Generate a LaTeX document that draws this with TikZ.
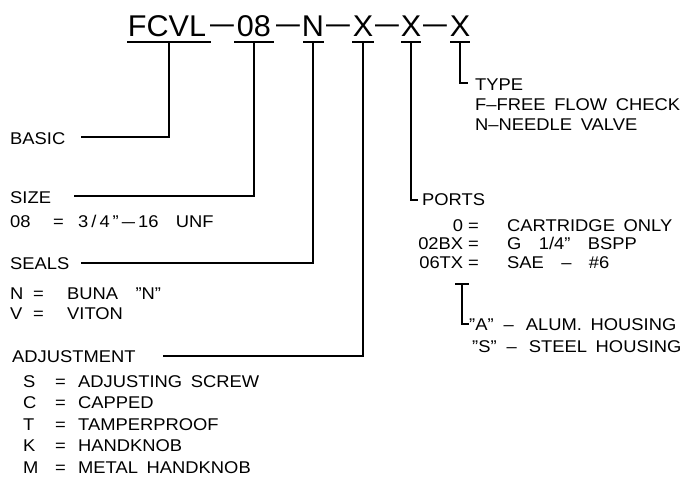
\documentclass[tikz,border=0pt]{standalone}
\usepackage{fontspec}
\usepackage{graphicx}
\setmainfont[FakeStretch=1.08,WordSpace=1.7]{Liberation Sans}
\newfontfamily\titlefont[FakeStretch=1.02]{Liberation Sans}
\newcommand\lrow[4]{\makebox[#1][l]{#3}\makebox[#2][l]{=}#4}
\newcommand\prow[2]{\makebox[53pt][r]{#1}\hspace{5pt}\makebox[39pt][l]{=}#2}
\newcommand\tdash{\raisebox{2.5pt}{\scalebox{1.4}[1]{–}}}
\newcommand\hdash{\hspace{10pt}–\hspace{12pt}}
\tikzset{
  lbl/.style={anchor=base west,inner sep=0pt,font=\fontsize{17}{17}\selectfont},
  ttl/.style={anchor=base,inner sep=0pt,font=\titlefont\fontsize{30}{30}\selectfont},
  ln/.style={line width=1.5pt,line cap=rect},
}
\begin{document}
\begin{tikzpicture}[x=1pt,y=-1pt]
\useasboundingbox[fill=white] (0,0) rectangle (688,480);
% title
\node[ttl] (t1) at (167,36) {FCVL};
\node[ttl] (d1) at (222,36) {\tdash};
\node[ttl] (t2) at (254,36) {08};
\node[ttl] (d2) at (288,36) {\tdash};
\node[ttl] (t3) at (313,36) {N};
\node[ttl] (d3) at (338,36) {\tdash};
\node[ttl] (t4) at (363,36) {X};
\node[ttl] (d4) at (387,36) {\tdash};
\node[ttl] (t5) at (411,36) {X};
\node[ttl] (d5) at (435,36) {\tdash};
\node[ttl] (t6) at (460,36) {X};
% underlines
\draw[ln] (128,42) -- (210,42);
\draw[ln] (235,42) -- (273,42);
\draw[ln] (304,42) -- (323,42);
\draw[ln] (353,42) -- (373,42);
\draw[ln] (402,42) -- (420,42);
\draw[ln] (451,42) -- (469,42);
\coordinate (u1) at (169,42);
\coordinate (u2) at (254,42);
\coordinate (u3) at (313,42);
\coordinate (u4) at (363,42);
\coordinate (u5) at (411,42);
\coordinate (u6) at (460,42);
% left labels
\node[lbl] (basic) at (10,144) {BASIC};
\node[lbl] (size) at (10,203) {SIZE};
\node[lbl] (size1) at (10,227) {\lrow{43pt}{25pt}{08}{3\kern3pt/\kern3pt4\kern3pt”\kern3pt\scalebox{1.3}[1]{–}\kern3pt16~~UNF}};
\node[lbl] (seals) at (10,269) {SEALS};
\node[lbl] (seal1) at (10,299) {\lrow{23pt}{34pt}{N}{BUNA~~”N”}};
\node[lbl] (seal2) at (10,319) {\lrow{23pt}{34pt}{V}{VITON}};
\node[lbl] (adj) at (12,362) {ADJUSTMENT};
\node[lbl] (adj1) at (23,387) {\lrow{32pt}{23pt}{S}{ADJUSTING~SCREW}};
\node[lbl] (adj2) at (23,408) {\lrow{32pt}{23pt}{C}{CAPPED}};
\node[lbl] (adj3) at (23,430) {\lrow{32pt}{23pt}{T}{TAMPERPROOF}};
\node[lbl] (adj4) at (23,451) {\lrow{32pt}{23pt}{K}{HANDKNOB}};
\node[lbl] (adj5) at (23,473) {\lrow{32pt}{23pt}{M}{METAL~HANDKNOB}};
% right labels
\node[lbl] (type) at (475,90) {TYPE};
\node[lbl] (type1) at (475,110) {F–FREE FLOW CHECK};
\node[lbl] (type2) at (475,130) {N–NEEDLE VALVE};
\node[lbl] (ports) at (422,205) {PORTS};
\node[lbl] (port1) at (410,231) {\prow{0}{CARTRIDGE ONLY}};
\node[lbl] (port2) at (410,249) {\prow{02BX}{G~~1/4”~~BSPP}};
\node[lbl] (port3) at (410,268) {\prow{06TX}{SAE~~–~~\#6}};
\node[lbl] (hous1) at (469,330) {”A”\hdash ALUM. HOUSING};
\node[lbl] (hous2) at (472,352) {”S”\hdash STEEL HOUSING};
% connectors
\coordinate (b0) at (82,137);
\coordinate (s0) at (75,196);
\coordinate (e0) at (82,263);
\coordinate (a0) at (164,356);
\coordinate (p0) at (417,200);
\coordinate (y0) at (467,83);
\draw[ln] (u1) |- (b0);
\draw[ln] (u2) |- (s0);
\draw[ln] (u3) |- (e0);
\draw[ln] (u4) |- (a0);
\draw[ln] (u5) |- (p0);
\draw[ln] (u6) |- (y0);
% housing bracket
\coordinate (hb1) at (456,284);
\coordinate (hb2) at (468,284);
\coordinate (hm) at (462,284);
\coordinate (h0) at (468,324);
\draw[ln] (hb1) -- (hb2);
\draw[ln] (hm) |- (h0);
\end{tikzpicture}
\end{document}
